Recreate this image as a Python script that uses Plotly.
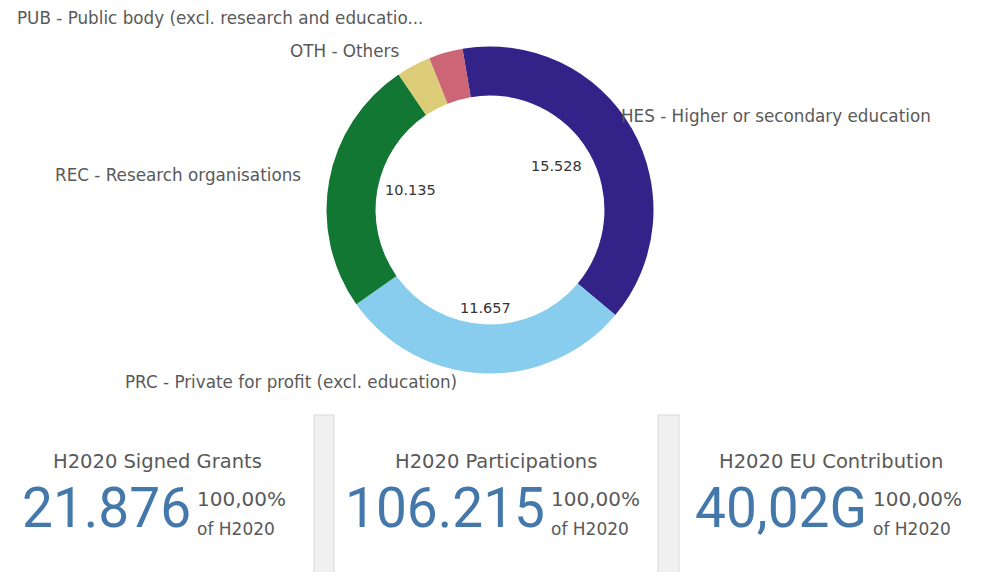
import math
import plotly.graph_objects as go

# ---------------- data ----------------
categories = ["HES", "PRC", "REC", "OTH", "PUB"]
category_labels = [
    "HES - Higher or secondary education",
    "PRC - Private for profit (excl. education)",
    "REC - Research organisations",
    "OTH - Others",
    "PUB - Public body (excl. research and educatio...",
]
values = [15528, 11657, 10135, 1360, 1340]  # EU contribution, M EUR
colors = ["#332288", "#88CCEE", "#117733", "#DDCC77", "#CC6677"]

kpi_titles = ["H2020 Signed Grants", "H2020 Participations", "H2020 EU Contribution"]
kpi_values = ["21.876", "106.215", "40,02G"]
kpi_pct = ["100,00%", "100,00%", "100,00%"]
kpi_sub = ["of H2020", "of H2020", "of H2020"]

# ---------------- layout constants (screen pixels) ----------------
W, H = 983, 572
OFF = 8  # default page margin around the plot div
CX, CY, R = 490, 210, 163.5
HOLE = 0.70
ROT = -9.7
LABEL_R = 185
label_nudge = [(-31, -2), (-23, -13), (-5, -2), (-3, 5), (-15, -14)]
GRAY = "#595959"
BLUE = "#4477AA"


def px(x):
    return (x - OFF) / W


def py(y):
    return 1 - (y - OFF) / H


fig = go.Figure()
fig.add_trace(go.Pie(
    labels=categories,
    values=values,
    marker=dict(colors=colors, line=dict(width=0)),
    hole=HOLE,
    sort=False,
    direction="clockwise",
    rotation=ROT,
    textinfo="none",
    hoverinfo="label+value+percent",
    domain=dict(x=[px(CX - R), px(CX + R)], y=[py(CY + R), py(CY - R)]),
))

annotations = []
total = sum(values)
start = ROT
for i, (cat, v) in enumerate(zip(category_labels, values)):
    span = 360 * v / total
    mid = math.radians(start + span / 2)
    start += span
    s, c = math.sin(mid), math.cos(mid)
    # outer label
    lx = CX + LABEL_R * s + label_nudge[i][0]
    ly = CY - LABEL_R * c + label_nudge[i][1]
    annotations.append(dict(
        x=px(lx), y=py(ly), xref="paper", yref="paper", showarrow=False,
        text=cat, xanchor="left" if s > 0 else "right", yanchor="middle",
        font=dict(family="DejaVu Sans", size=16.8, color=GRAY),
    ))
    # inner value label
    if v / total > 0.1:
        rr = R * HOLE - 6
        vx = CX + rr * s
        vy = CY - rr * c
        xa = "right" if s > 0.3 else ("left" if s < -0.3 else "center")
        ya = "top" if c > 0.3 else ("bottom" if c < -0.3 else "middle")
        annotations.append(dict(
            x=px(vx), y=py(vy), xref="paper", yref="paper", showarrow=False,
            text=f"{v:,}".replace(",", "."), xanchor=xa, yanchor=ya,
            font=dict(family="DejaVu Sans", size=14.5, color="#333333"),
        ))

# ---------------- KPI panels ----------------
separators = [(314, 334), (658, 679)]
shapes = []
for x0, x1 in separators:
    shapes.append(dict(type="rect", xref="paper", yref="paper",
                       x0=px(x0), x1=px(x1), y0=py(H + OFF), y1=py(415),
                       fillcolor="#F0F0F0", line=dict(color="#E2E2E2", width=1.5)))

bounds = [0, separators[0][0], separators[0][1], separators[1][0], separators[1][1], W]
panel_centers = [(bounds[0] + bounds[1]) / 2, (bounds[2] + bounds[3]) / 2, (bounds[4] + bounds[5]) / 2]

NUM_FS = 55
cw = {".": 0.263, ",": 0.22, "G": 0.68}
SUF_W = 96


def num_width(t):
    return sum(cw.get(ch, 0.562) for ch in t) * NUM_FS


for i, cxp in enumerate(panel_centers):
    annotations.append(dict(
        x=px(cxp), y=py(461), xref="paper", yref="paper", showarrow=False,
        text=kpi_titles[i], xanchor="center", yanchor="middle",
        font=dict(family="DejaVu Sans", size=19.5, color=GRAY),
    ))
    nw = num_width(kpi_values[i])
    gw = nw + 2 + SUF_W
    left = cxp - gw / 2
    annotations.append(dict(
        x=px(left + nw), y=py(508), xref="paper", yref="paper", showarrow=False,
        text=kpi_values[i], xanchor="right", yanchor="middle",
        font=dict(family="Roboto", size=NUM_FS, color=BLUE),
    ))
    annotations.append(dict(
        x=px(left + nw + 2), y=py(499), xref="paper", yref="paper", showarrow=False,
        text=kpi_pct[i], xanchor="left", yanchor="middle",
        font=dict(family="DejaVu Sans", size=20, color=GRAY),
    ))
    annotations.append(dict(
        x=px(left + nw + 2), y=py(529), xref="paper", yref="paper", showarrow=False,
        text=kpi_sub[i], xanchor="left", yanchor="middle",
        font=dict(family="DejaVu Sans", size=17, color=GRAY),
    ))

fig.update_layout(
    width=W, height=H,
    margin=dict(l=0, r=0, t=0, b=0),
    paper_bgcolor="white", plot_bgcolor="white",
    showlegend=False,
    annotations=annotations,
    shapes=shapes,
)

fig.write_html("out.html")
